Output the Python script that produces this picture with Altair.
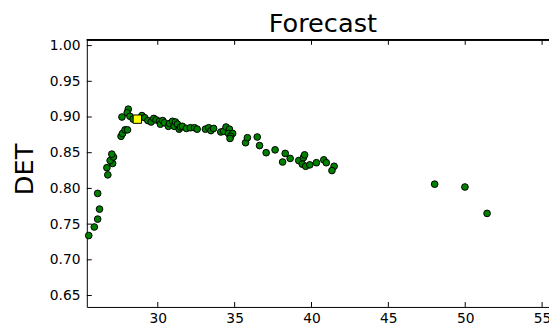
import altair as alt
import pandas as pd

# ---- data ----
x_vals = [25.51, 25.87, 26.09, 26.21, 26.09, 26.75, 26.69, 27.06, 26.90, 27.12,
          27.01, 27.61, 27.71, 27.87, 28.03, 27.67, 28.08, 28.01, 28.19, 28.40,
          28.97, 29.15, 29.36, 29.57, 29.74, 29.89, 30.11, 30.17, 30.32, 30.43,
          30.69, 30.77, 30.96, 31.07, 31.15, 31.28, 31.39, 31.47, 31.60, 31.86,
          32.12, 32.39, 32.56, 33.10, 33.31, 33.46, 33.63, 34.10, 34.28, 34.44,
          34.66, 34.60, 34.87, 34.74, 34.70,
          35.71, 35.83, 36.47, 36.62, 37.05, 37.63, 38.29, 38.12, 38.61, 39.17,
          39.47, 39.55, 39.40, 39.62, 39.89, 40.32, 40.80, 40.96, 41.47, 41.33,
          48.01, 49.98, 51.42]
y_vals = [0.734, 0.746, 0.757, 0.771, 0.793, 0.819, 0.829, 0.835, 0.839, 0.844,
          0.848, 0.873, 0.877, 0.882, 0.882, 0.900, 0.911, 0.906, 0.901, 0.897,
          0.902, 0.899, 0.895, 0.893, 0.898, 0.896, 0.894, 0.890, 0.895, 0.892,
          0.887, 0.891, 0.894, 0.887, 0.893, 0.890, 0.883, 0.886, 0.887, 0.884,
          0.885, 0.885, 0.883, 0.883, 0.885, 0.881, 0.884, 0.879, 0.880, 0.886,
          0.883, 0.877, 0.877, 0.873, 0.870,
          0.864, 0.871, 0.872, 0.860, 0.850, 0.854, 0.849, 0.837, 0.842, 0.839,
          0.843, 0.847, 0.834, 0.831, 0.833, 0.836, 0.840, 0.836, 0.831, 0.825,
          0.806, 0.802, 0.765]
best_x = [28.67]
best_y = [0.897]
x_ticks = [30, 35, 40, 45, 50, 55]
y_ticks = [0.65, 0.70, 0.75, 0.80, 0.85, 0.90, 0.95, 1.00]
title_text = "Forecast"
y_title = "DET"

pts = pd.DataFrame({"x": x_vals, "y": y_vals})
best = pd.DataFrame({"x": best_x, "y": best_y})
xt = pd.DataFrame({"x": x_ticks})
yt = pd.DataFrame({"y": y_ticks})

W, H = 469, 271
FONT = "DejaVu Sans"

xscale = alt.Scale(domain=[25.385, 55.449], nice=False, zero=False)
yscale = alt.Scale(domain=[0.634, 1.008], nice=False, zero=False)

xaxis = alt.Axis(values=x_ticks, title=None, grid=False, ticks=False, tickSize=0,
                 labelPadding=5, labelFlush=False, labelOverlap=False, format="d",
                 labelFont=FONT, labelFontSize=14, labelColor="black",
                 domain=True, domainColor="black", domainWidth=1)
yaxis = alt.Axis(values=y_ticks, title=y_title, grid=False, ticks=False, tickSize=0,
                 labelPadding=7, labelFlush=False, labelOverlap=False, format=".2f",
                 labelFont=FONT, labelFontSize=14, labelColor="black",
                 domain=True, domainColor="black", domainWidth=1,
                 titleFont=FONT, titleFontSize=26, titleFontWeight="normal",
                 titleColor="black", titleAngle=270, titleAlign="center",
                 titleBaseline="alphabetic", titleX=-55, titleY=131)

X = alt.X("x:Q", scale=xscale, axis=xaxis)
Y = alt.Y("y:Q", scale=yscale, axis=yaxis)

points = alt.Chart(pts).mark_point(
    shape="circle", filled=True, fill="#008000", stroke="black",
    strokeWidth=1, size=46, opacity=1, fillOpacity=1, strokeOpacity=1
).encode(x=X, y=Y)

best_pt = alt.Chart(best).mark_point(
    shape="square", filled=True, fill="#ffff00", stroke="black",
    strokeWidth=1, size=72, opacity=1, fillOpacity=1, strokeOpacity=1
).encode(x=X, y=Y)

tick_bottom = alt.Chart(xt).mark_rule(color="black", strokeWidth=1).encode(
    x=X, y=alt.value(H), y2=alt.value(H - 5))
tick_top = alt.Chart(xt).mark_rule(color="black", strokeWidth=1).encode(
    x=X, y=alt.value(0), y2=alt.value(5))
tick_left = alt.Chart(yt).mark_rule(color="black", strokeWidth=1).encode(
    y=Y, x=alt.value(0), x2=alt.value(5))
top_frame = alt.Chart(xt).mark_rule(color="black", strokeWidth=1).encode(
    x=alt.value(0), x2=alt.value(W), y=alt.value(0))

chart = alt.layer(tick_bottom, tick_top, tick_left, top_frame, points, best_pt).properties(
    width=W, height=H,
    title=alt.TitleParams(title_text, font=FONT, fontSize=26, fontWeight="normal",
                          color="black", anchor="middle", frame="group",
                          offset=2, dx=5),
    autosize=alt.AutoSizeParams(type="none"),
    padding={"left": 80, "top": 30, "right": 0, "bottom": 19},
    background="white",
).configure_view(strokeWidth=0)

chart.save("out.html", embed_options={"renderer": "svg", "actions": False})
